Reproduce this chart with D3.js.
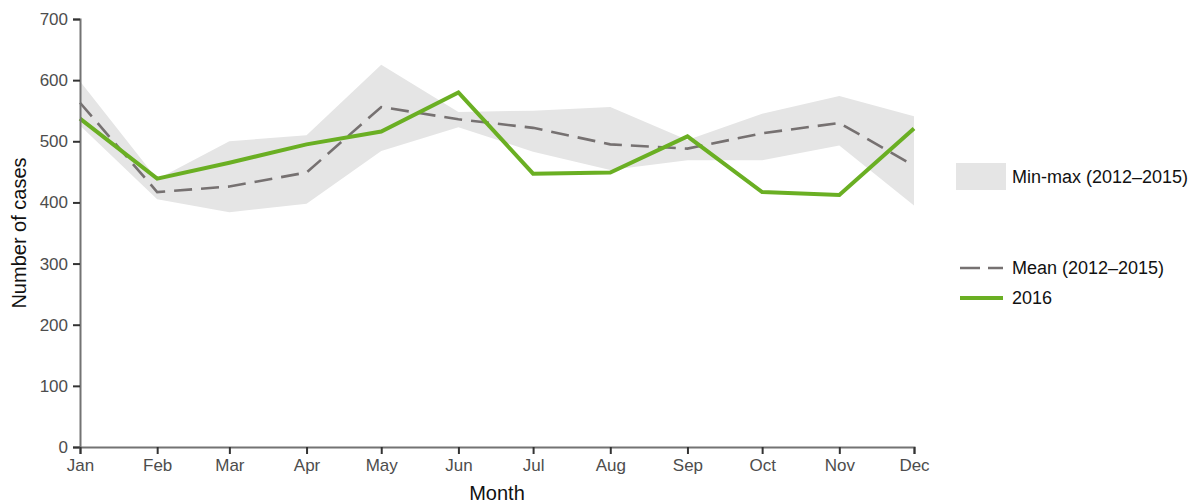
<!DOCTYPE html>
<html>
<head>
<meta charset="utf-8">
<script src="https://cdn.jsdelivr.net/npm/d3@7"></script>
<style>
  body { margin: 0; background: #fff; }
  text { font-family: "Liberation Sans", Arial, sans-serif; }
</style>
</head>
<body>
<div id="chart"></div>
<script>
// donnees
const months = ["Jan","Feb","Mar","Apr","May","Jun","Jul","Aug","Sep","Oct","Nov","Dec"];
const cases2016 = [537, 439, 465, 495, 516, 580, 447, 449, 508, 417, 412, 521];
const meanCases = [563, 417, 426, 449, 556, 536, 522, 495, 488, 513, 530, 460];
const minCases  = [526, 405, 384, 398, 484, 523, 483, 453, 469, 469, 493, 395];
const maxCases  = [598, 438, 500, 510, 625, 548, 550, 556, 502, 545, 574, 541];
const yTicks = [0, 100, 200, 300, 400, 500, 600, 700];

const W = 1192, H = 502;
const mLeft = 80, mRight = 914, mTop = 19, mBottom = 447;

const svg = d3.select("#chart").append("svg").attr("width", W).attr("height", H);

const dates = months.map((m, i) => new Date(2016, i, 1));
const x = d3.scaleTime().domain([dates[0], dates[11]]).range([mLeft, mRight]);
const y = d3.scaleLinear().domain([0, 700]).range([mBottom, mTop]);

const rows = months.map((m, i) => ({d: dates[i], v: cases2016[i], mean: meanCases[i], lo: minCases[i], hi: maxCases[i]}));

// bande min-max
svg.append("path")
  .datum(rows)
  .attr("fill", "#e5e5e5")
  .attr("d", d3.area().x(d => x(d.d)).y0(d => y(d.lo)).y1(d => y(d.hi)));

// moyenne en pointilles
svg.append("path")
  .datum(rows)
  .attr("fill", "none")
  .attr("stroke", "#767171")
  .attr("stroke-width", 2.6)
  .attr("stroke-dasharray", "18,9")
  .attr("d", d3.line().x(d => x(d.d)).y(d => y(d.mean)));

// 2016
svg.append("path")
  .datum(rows)
  .attr("fill", "none")
  .attr("stroke", "#6aaf23")
  .attr("stroke-width", 4)
  .attr("stroke-linejoin", "miter")
  .attr("d", d3.line().x(d => x(d.d)).y(d => y(d.v)));

// axes
const yAxis = svg.append("g").attr("transform", `translate(${mLeft},0)`)
  .call(d3.axisLeft(y).tickValues(yTicks).tickSize(7).tickPadding(5));
const xAxis = svg.append("g").attr("transform", `translate(0,${mBottom})`)
  .call(d3.axisBottom(x).tickValues(dates).tickFormat((d, i) => months[i]).tickSize(7).tickPadding(5));

[yAxis, xAxis].forEach(g => {
  g.select(".domain").attr("stroke", "#737373").attr("stroke-width", 2);
  g.selectAll(".tick line").attr("stroke", "#333").attr("stroke-width", 2);
  g.selectAll(".tick text").attr("fill", "#4d4d4d").style("font-size", "17px");
});

svg.append("text")
  .attr("x", (mLeft + mRight) / 2)
  .attr("y", 500)
  .attr("text-anchor", "middle")
  .style("font-size", "20px")
  .attr("fill", "#111")
  .text("Month");

svg.append("text")
  .attr("transform", `translate(26,${(mTop + mBottom) / 2}) rotate(-90)`)
  .attr("text-anchor", "middle")
  .style("font-size", "20px")
  .attr("fill", "#111")
  .text("Number of cases");

// legende
const leg = svg.append("g");
leg.append("rect").attr("x", 956).attr("y", 163).attr("width", 50).attr("height", 27).attr("fill", "#e5e5e5");
leg.append("text").attr("x", 1012).attr("y", 177).attr("dy", "0.35em").style("font-size", "18px").attr("fill", "#111")
  .text("Min-max (2012–2015)");

leg.append("line").attr("x1", 960).attr("x2", 1003).attr("y1", 268).attr("y2", 268)
  .attr("stroke", "#767171").attr("stroke-width", 2.6).attr("stroke-dasharray", "20,8");
leg.append("text").attr("x", 1012).attr("y", 268).attr("dy", "0.35em").style("font-size", "18px").attr("fill", "#111")
  .text("Mean (2012–2015)");

leg.append("line").attr("x1", 960).attr("x2", 1003).attr("y1", 298).attr("y2", 298)
  .attr("stroke", "#6aaf23").attr("stroke-width", 4);
leg.append("text").attr("x", 1012).attr("y", 298).attr("dy", "0.35em").style("font-size", "18px").attr("fill", "#111")
  .text("2016");
</script>
</body>
</html>
